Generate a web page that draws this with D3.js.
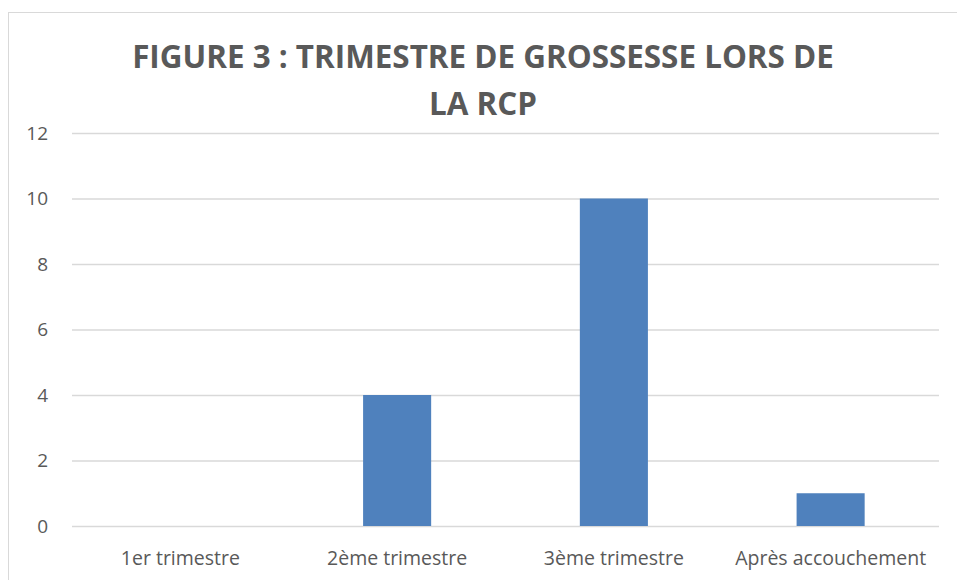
<html>
<head>
<meta charset="utf-8">
<style>
  body { margin: 0; background: white; font-family: "Open Sans", sans-serif; }
</style>
</head>
<body>
<script src="https://d3js.org/d3.v7.min.js"></script>
<div id="graph_item"></div>
<script>
var categories = ["1er trimestre", "2ème trimestre", "3ème trimestre", "Après accouchement"];
var values = [0, 4, 10, 1];
var yTicks = [0, 2, 4, 6, 8, 10, 12];
var titleLines = ["FIGURE 3 : TRIMESTRE DE GROSSESSE LORS DE", "LA RCP"];

var W = 957, H = 580;
var margin = {top: 133, right: 18, bottom: 54, left: 72};
var width = W - margin.left - margin.right,
    height = H - margin.top - margin.bottom;

var root = d3.select("#graph_item").append("svg")
  .attr("width", W).attr("height", H);

// chart border
root.append("rect")
  .attr("x", 8.5).attr("y", 12.5)
  .attr("width", 960).attr("height", 600)
  .attr("fill", "none").attr("stroke", "#d9d9d9");

var svg = root.append("g")
  .attr("transform", "translate(" + margin.left + "," + margin.top + ")");

var x = d3.scaleBand().domain(categories).range([0, width]).paddingInner(0.686).paddingOuter(0.343);
var y = d3.scaleLinear().domain([0, 12]).range([height, 0]);

// gridlines
svg.append("g")
  .call(d3.axisLeft(y).tickValues(yTicks).tickSize(-width).tickFormat(""))
  .call(g => g.select(".domain").remove())
  .call(g => g.selectAll("line").attr("stroke", "#d9d9d9").attr("stroke-width", 1.3));

// y labels
svg.append("g")
  .call(d3.axisLeft(y).tickValues(yTicks).tickSize(0).tickPadding(24))
  .call(g => g.select(".domain").remove())
  .call(g => g.selectAll("text").attr("fill", "#595959").style("font-size", "19px").style("font-family", "Open Sans, sans-serif"));

// x labels
var band = d3.scaleBand().domain(categories).range([0, width]);
svg.append("g")
  .attr("transform", "translate(0," + height + ")")
  .call(d3.axisBottom(band).tickSize(0).tickPadding(25))
  .call(g => g.select(".domain").remove())
  .call(g => g.selectAll("text").attr("fill", "#595959").style("font-size", "19.5px").style("font-family", "Open Sans, sans-serif"));

// bars
svg.selectAll(".bar")
  .data(values)
  .join("rect")
    .attr("class", "bar")
    .attr("x", (d, i) => x(categories[i]))
    .attr("width", x.bandwidth())
    .attr("y", d => y(d))
    .attr("height", d => height - y(d))
    .attr("fill", "#4f81bd");

// title
root.append("g").selectAll("text")
  .data(titleLines)
  .join("text")
    .attr("x", 483)
    .attr("y", (d, i) => 68 + i * 47)
    .attr("text-anchor", "middle")
    .attr("fill", "#595959")
    .style("font-size", "31.4px")
    .style("font-weight", 700)
    .style("font-family", "Open Sans, sans-serif")
    .text(d => d);
</script>
</body>
</html>
